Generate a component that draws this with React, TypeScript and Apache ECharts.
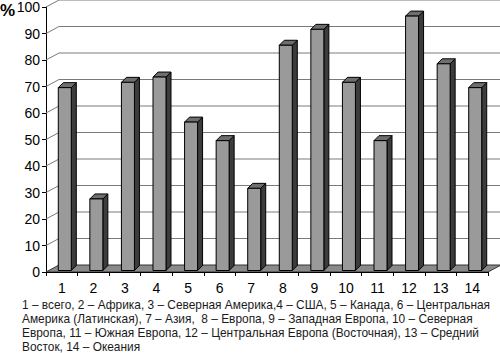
import React, { useEffect, useRef } from "react";
import * as echarts from "echarts";

const categories = ["1", "2", "3", "4", "5", "6", "7", "8", "9", "10", "11", "12", "13", "14"];
const values = [69, 27, 71, 73, 56, 49, 31, 85, 91, 71, 49, 96, 78, 69];
const yTicks = [0, 10, 20, 30, 40, 50, 60, 70, 80, 90, 100];
const captionLines = [
  "1 – всего, 2 – Африка, 3 – Северная Америка,4 – США, 5 – Канада, 6 – Центральная",
  "Америка (Латинская), 7 – Азия,  8 – Европа, 9 – Западная Европа, 10 – Северная",
  "Европа, 11 – Южная Европа, 12 – Центральная Европа (Восточная), 13 – Средний",
  "Восток, 14 – Океания",
];
const unitLabel = "%";

const FONT = 'Arial, "Liberation Sans", sans-serif';
const WALL_DX = 13;
const WALL_DY = 7;
const BAR_W = 13;
const BAR_DX = 5;
const BAR_DY = 5;
const BAR_SHIFT_X = 3;
const BAR_SHIFT_Y = -1.5;

export default function App() {
  const ref = useRef<HTMLDivElement>(null);
  useEffect(() => {
    if (!ref.current) return;
    const chart = echarts.init(ref.current, null, { renderer: "svg" });
    const n = categories.length;
    const option: any = {
      animation: false,
      backgroundColor: "#ffffff",
      grid: { left: 46, right: 12, top: 7, bottom: 81, containLabel: false },
      xAxis: {
        type: "category",
        data: categories,
        axisLine: { show: true, lineStyle: { color: "#000", width: 1 } },
        axisTick: { show: true, length: 4, lineStyle: { color: "#000" } },
        axisLabel: { color: "#000", fontSize: 14, fontFamily: FONT, margin: 8, lineHeight: 15 },
        splitLine: { show: false },
        z: 5,
      },
      yAxis: {
        type: "value",
        min: 0,
        max: 100,
        interval: 10,
        axisLine: { show: true, lineStyle: { color: "#000", width: 1 } },
        axisTick: { show: true, length: 4, lineStyle: { color: "#000" } },
        axisLabel: { color: "#000", fontSize: 14, fontFamily: FONT, margin: 6 },
        splitLine: { show: false },
      },
      series: [
        {
          type: "custom",
          name: "wall",
          z: 1,
          silent: true,
          data: yTicks.map((t) => [0, t]),
          renderItem: (params: any, api: any) => {
            const v = api.value(1);
            const band = api.size([1, 0])[0];
            const pL = api.coord([0, v]);
            const pR = api.coord([n - 1, v]);
            const xL = pL[0] - band / 2;
            const xR = pR[0] + band / 2;
            const y = pL[1];
            if (v === 0) {
              return {
                type: "polygon",
                shape: {
                  points: [
                    [xL, y],
                    [xR, y],
                    [xR + WALL_DX, y - WALL_DY],
                    [xL + WALL_DX, y - WALL_DY],
                  ],
                },
                style: { fill: "#8a8a8a", stroke: "#333", lineWidth: 1 },
              };
            }
            return {
              type: "polyline",
              shape: {
                points: [
                  [xL, y],
                  [xL + WALL_DX, y - WALL_DY],
                  [xR + WALL_DX + 20, y - WALL_DY],
                ],
              },
              style: { stroke: "#7a7a7a", lineWidth: 1, fill: null },
            };
          },
        },
        {
          type: "custom",
          name: "bars",
          z: 3,
          data: values.map((v, i) => [i, v]),
          renderItem: (params: any, api: any) => {
            const i = api.value(0);
            const v = api.value(1);
            const top = api.coord([i, v]);
            const base = api.coord([i, 0]);
            const x0 = top[0] - BAR_W / 2 + BAR_SHIFT_X;
            const x1 = x0 + BAR_W;
            const yT = top[1] + BAR_SHIFT_Y;
            const yB = base[1] + BAR_SHIFT_Y;
            return {
              type: "group",
              children: [
                {
                  type: "polygon",
                  shape: {
                    points: [
                      [x1, yT],
                      [x1 + BAR_DX, yT - BAR_DY],
                      [x1 + BAR_DX, yB - BAR_DY],
                      [x1, yB],
                    ],
                  },
                  style: { fill: "#3c3c3c", stroke: "#000", lineWidth: 1 },
                },
                {
                  type: "polygon",
                  shape: {
                    points: [
                      [x0, yT],
                      [x0 + BAR_DX, yT - BAR_DY],
                      [x1 + BAR_DX, yT - BAR_DY],
                      [x1, yT],
                    ],
                  },
                  style: { fill: "#6e6e6e", stroke: "#000", lineWidth: 1 },
                },
                {
                  type: "rect",
                  shape: { x: x0, y: yT, width: BAR_W, height: yB - yT },
                  style: { fill: "#9a9a9a", stroke: "#000", lineWidth: 1 },
                },
              ],
            };
          },
        },
      ],
      graphic: [
        {
          type: "text",
          left: 0,
          top: 2,
          style: { text: unitLabel, fontSize: 17, fontWeight: "bold", fontFamily: FONT, fill: "#000" },
        },
        ...captionLines.map((line, k) => ({
          type: "text",
          left: 22,
          top: 298 + k * 14,
          style: { text: line, fontSize: 11.9, lineHeight: 13, fontFamily: FONT, fill: "#1a1a1a" },
        })),
      ],
    };
    chart.setOption(option);
    return () => chart.dispose();
  }, []);
  return (
    <div
      ref={ref}
      style={{ position: "absolute", left: 0, top: 0, width: 500, height: 353 }}
    />
  );
}
